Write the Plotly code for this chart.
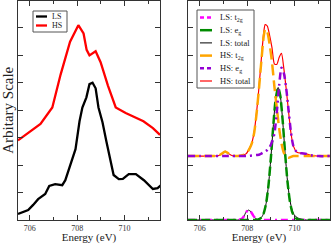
import plotly.graph_objects as go

# ---------------- Left panel data ----------------
ls_exp_E = [705.5, 705.93, 706.14, 706.35, 706.65, 706.82, 707.07, 707.37, 707.5, 707.71,
            707.93, 708.1, 708.22, 708.39, 708.52, 708.65, 708.78, 708.9, 708.99, 709.07,
            709.24, 709.41, 709.54, 709.76, 709.93, 710.18, 710.48, 710.82, 711.2, 711.4, 711.54]
ls_exp_I = [0.22, 0.36, 0.55, 0.76, 0.95, 1.24, 1.31, 1.27, 1.45, 2.0,
            2.58, 3.6, 4.1, 4.47, 4.95, 5.0, 4.8, 4.1, 3.8, 3.56,
            2.84, 2.1, 1.64, 1.49, 1.5, 1.67, 1.67, 1.45, 1.13, 1.16, 1.27]
hs_exp_E = [705.5, 705.8, 706.1, 706.45, 706.95, 707.3, 707.7, 708.05, 708.27, 708.4,
            708.52, 708.78, 708.99, 709.3, 709.63, 710.05, 710.8, 711.2, 711.5]
hs_exp_I = [2.9, 3.1, 3.3, 3.5, 4.1, 5.3, 6.5, 7.1, 6.8, 6.2,
            6.0, 6.15, 5.75, 4.9, 4.1, 3.9, 3.6, 3.35, 3.1]

# ---------------- Right panel data ----------------
ls_E = [705.5, 706.5, 707.0, 707.6, 707.75, 707.85, 707.95, 708.05, 708.15, 708.25, 708.35,
        708.45, 708.6, 708.7, 708.8, 708.9, 709.0, 709.1, 709.2, 709.31, 709.4, 709.5,
        709.6, 709.7, 709.8, 709.9, 710.0, 710.15, 710.3, 710.5, 711.0, 711.5]
ls_t2g = [0, 0, 0, 0, 0.03, 0.12, 0.28, 0.36, 0.31, 0.17, 0.06,
          0.01, 0, 0, 0, 0, 0, 0, 0, 0, 0, 0,
          0, 0, 0, 0, 0, 0, 0, 0, 0, 0]
ls_eg = [0, 0, 0, 0, 0, 0, 0, 0, 0, 0, 0,
         0.01, 0.09, 0.25, 0.6, 1.26, 2.24, 3.39, 4.38, 4.83, 4.53, 3.62,
         2.47, 1.43, 0.71, 0.3, 0.11, 0.02, 0, 0, 0, 0]
ls_total = [0, 0, 0, 0, 0.03, 0.12, 0.28, 0.36, 0.31, 0.17, 0.06,
            0.02, 0.09, 0.25, 0.6, 1.26, 2.24, 3.39, 4.38, 4.83, 4.53, 3.62,
            2.47, 1.45, 0.75, 0.36, 0.17, 0.07, 0.03, 0, 0, 0]

hs_E = [705.5, 706.0, 706.5, 706.8, 706.95, 707.07, 707.2, 707.35, 707.6, 707.8, 707.95,
        708.1, 708.2, 708.3, 708.4, 708.5, 708.6, 708.7, 708.76, 708.85, 708.95,
        709.05, 709.15, 709.25, 709.35, 709.45, 709.55, 709.65, 709.75, 709.85, 709.95,
        710.1, 710.3, 710.5, 710.7, 711.0, 711.5]
hs_t2g = [2.33, 2.33, 2.33, 2.35, 2.43, 2.5, 2.43, 2.35, 2.33, 2.36, 2.41,
          2.6, 2.8, 3.2, 3.9, 4.8, 5.8, 6.7, 6.95, 6.85, 6.4,
          5.75, 4.87, 4.1, 3.35, 2.8, 2.45, 2.3, 2.27, 2.3, 2.33,
          2.33, 2.33, 2.33, 2.33, 2.33, 2.33]
hs_eg = [2.33, 2.33, 2.33, 2.33, 2.33, 2.33, 2.33, 2.33, 2.33, 2.33, 2.33,
         2.34, 2.35, 2.36, 2.37, 2.38, 2.42, 2.47, 2.5, 2.55, 2.65,
         2.85, 3.15, 3.9, 4.9, 5.55, 5.35, 4.8, 4.0, 3.2, 2.7,
         2.47, 2.43, 2.41, 2.36, 2.33, 2.33]
hs_total = [2.33, 2.33, 2.33, 2.35, 2.43, 2.5, 2.43, 2.35, 2.33, 2.36, 2.41,
            2.61, 2.82, 3.23, 3.94, 4.85, 5.89, 6.84, 7.12, 7.07, 6.72,
            6.27, 5.69, 5.67, 5.92, 6.07, 5.52, 4.77, 3.94, 3.17, 2.7,
            2.47, 2.43, 2.41, 2.36, 2.33, 2.33]

x_ticks = [706, 708, 710]
x_tick_labels = ["706", "708", "710"]

W, H = 332, 244
FONT = "Liberation Serif"
AXC = "#333333"

C_MAG = "#ff00ff"
C_GRN = "#008b00"
C_BLK = "#000000"
C_ORG = "#ffa500"
C_VIO = "#9400d3"
C_RED = "#ff0000"

D_MAG = "7px,4px,2px,4px"
D_GRN = "9px,4px"
D_ORG = "11px,5px"
D_VIO = "7px,4px,2px,4px"

fig = go.Figure()

# left panel
fig.add_trace(go.Scatter(x=ls_exp_E, y=ls_exp_I, mode="lines", name="LS",
                         line=dict(color=C_BLK, width=2.3), xaxis="x", yaxis="y", showlegend=False))
fig.add_trace(go.Scatter(x=hs_exp_E, y=hs_exp_I, mode="lines", name="HS",
                         line=dict(color=C_RED, width=2.3), xaxis="x", yaxis="y", showlegend=False))

# right panel
sp = dict(shape="spline", smoothing=0.6)
fig.add_trace(go.Scatter(x=ls_E, y=ls_total, mode="lines", name="LS: total",
                         line=dict(color=C_BLK, width=1, **sp), xaxis="x2", yaxis="y2", showlegend=False))
fig.add_trace(go.Scatter(x=hs_E, y=hs_total, mode="lines", name="HS: total",
                         line=dict(color=C_RED, width=1.2, **sp), xaxis="x2", yaxis="y2", showlegend=False))
fig.add_trace(go.Scatter(x=ls_E, y=ls_t2g, mode="lines", name="LS: t2g",
                         line=dict(color=C_MAG, width=2.5, dash=D_MAG, **sp), xaxis="x2", yaxis="y2", showlegend=False))
fig.add_trace(go.Scatter(x=ls_E, y=ls_eg, mode="lines", name="LS: eg",
                         line=dict(color=C_GRN, width=2.5, dash=D_GRN, **sp), xaxis="x2", yaxis="y2", showlegend=False))
fig.add_trace(go.Scatter(x=hs_E, y=hs_t2g, mode="lines", name="HS: t2g",
                         line=dict(color=C_ORG, width=2.5, dash=D_ORG, **sp), xaxis="x2", yaxis="y2", showlegend=False))
fig.add_trace(go.Scatter(x=hs_E, y=hs_eg, mode="lines", name="HS: eg",
                         line=dict(color=C_VIO, width=2.5, dash=D_VIO, **sp), xaxis="x2", yaxis="y2", showlegend=False))


def px(x):
    return x / W


def py(y):
    return 1 - y / H


xdom1 = [px(18), px(160)]
xdom2 = [px(188), px(330)]
ydom = [py(220), py(0.5)]

xax = dict(range=[705.5, 711.5], tickvals=x_ticks, ticktext=x_tick_labels,
           ticks="inside", ticklen=5, tickwidth=1, tickcolor=AXC,
           minor=dict(dtick=1, tick0=705, ticks="inside", ticklen=3, tickcolor=AXC),
           showline=True, linecolor=AXC, linewidth=1, mirror="ticks",
           showgrid=False, zeroline=False, automargin=True,
           tickfont=dict(family=FONT, size=8, color=AXC))
yax = dict(range=[0, 8], dtick=1, tick0=0, ticks="inside", ticklen=5, tickwidth=1, tickcolor=AXC,
           showticklabels=False, showline=True, linecolor=AXC, linewidth=1, mirror="ticks",
           showgrid=False, zeroline=False, automargin=False)

fig.update_layout(
    width=W, height=H, margin=dict(l=0, r=0, t=0, b=0, pad=0, autoexpand=False),
    paper_bgcolor="white", plot_bgcolor="white",
    xaxis=dict(xax, domain=xdom1, anchor="y",
               title=dict(text="Energy (eV)", font=dict(family=FONT, size=11, color="#222"), standoff=2)),
    yaxis=dict(yax, domain=ydom, anchor="x",
               title=dict(text="Arbitary Scale", font=dict(family=FONT, size=15, color="#222"), standoff=2)),
    xaxis2=dict(xax, domain=xdom2, anchor="y2",
                title=dict(text="Energy (eV)", font=dict(family=FONT, size=11, color="#222"), standoff=2)),
    yaxis2=dict(yax, domain=ydom, anchor="x2"),
    showlegend=False,
)

# ---- legends (drawn as shapes + text) ----
shapes = []
annotations = []


def legend_box(x0, y0, x1, y1):
    shapes.append(dict(type="rect", xref="paper", yref="paper",
                       x0=px(x0), x1=px(x1), y0=py(y1), y1=py(y0),
                       line=dict(color="#555555", width=1), fillcolor="white", layer="above"))


def legend_item(xl0, xl1, y, color, width, dash, text, xt, size):
    shapes.append(dict(type="line", xref="paper", yref="paper",
                       x0=px(xl0), x1=px(xl1), y0=py(y), y1=py(y),
                       line=dict(color=color, width=width, dash=dash), layer="above"))
    annotations.append(dict(text=text, xref="paper", yref="paper", x=px(xt), y=py(y),
                            xanchor="left", yanchor="middle", showarrow=False,
                            font=dict(family=FONT, size=size, color="#222")))


legend_box(33, 11, 67, 32)
legend_item(36, 47, 16.5, C_BLK, 2.3, "solid", "LS", 50, 8)
legend_item(36, 47, 25.5, C_RED, 2.3, "solid", "HS", 50, 8)

legend_box(197, 10, 254, 88)
ly = [17.5, 30.2, 42.9, 55.6, 68.3, 81]
legend_item(200, 212, ly[0], C_MAG, 2.5, "4px,3px", "LS: t<sub>2g</sub>", 218, 8.5)
legend_item(200, 212, ly[1], C_GRN, 2.5, "solid", "LS: e<sub>g</sub>", 218, 8.5)
legend_item(200, 212, ly[2], C_BLK, 1, "solid", "LS: total", 218, 8.5)
legend_item(200, 212, ly[3], C_ORG, 2.5, "solid", "HS: t<sub>2g</sub>", 218, 8.5)
legend_item(200, 212, ly[4], C_VIO, 2.5, "4px,3px", "HS: e<sub>g</sub>", 218, 8.5)
legend_item(200, 212, ly[5], C_RED, 1.2, "solid", "HS: total", 218, 8.5)

fig.update_layout(shapes=shapes, annotations=annotations)

fig.write_html("out.html", config={"displayModeBar": False},
               post_script="document.body.style.margin='0';document.body.style.overflow='hidden';")
